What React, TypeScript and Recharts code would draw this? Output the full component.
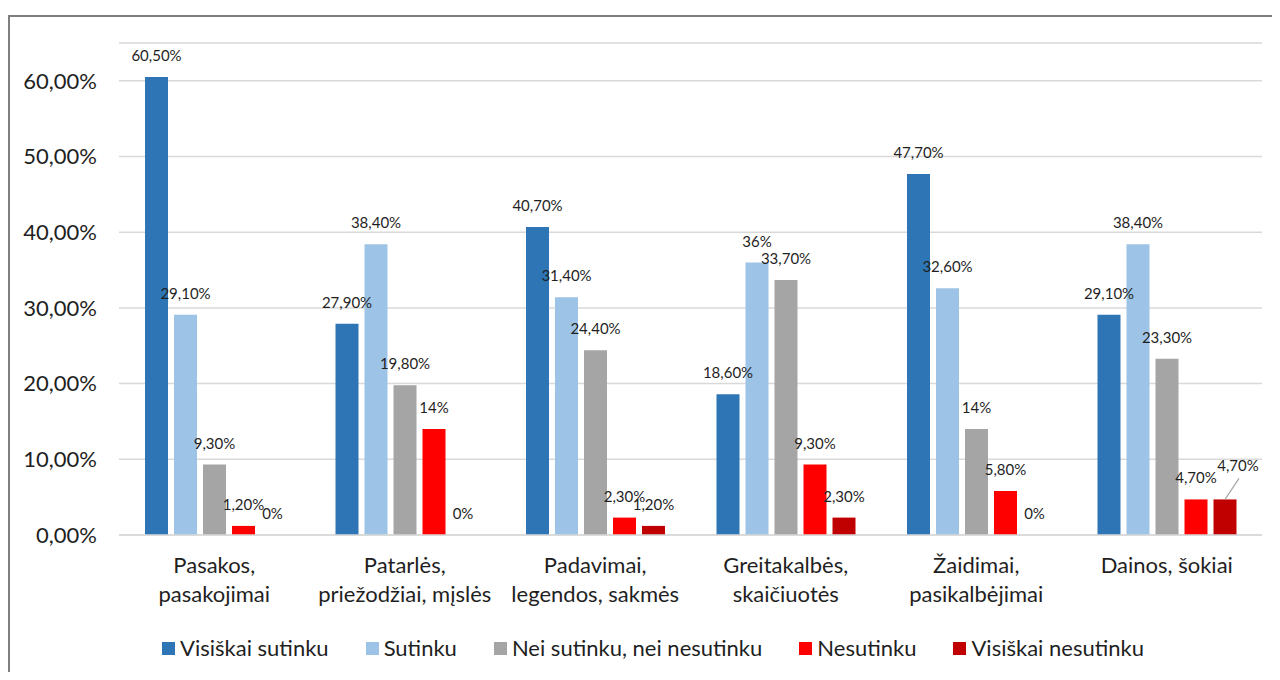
import { BarChart, Bar, XAxis, YAxis, CartesianGrid, LabelList } from 'recharts';

const categories = [
  'Pasakos,\npasakojimai',
  'Patarlės,\npriežodžiai, mįslės',
  'Padavimai,\nlegendos, sakmės',
  'Greitakalbės,\nskaičiuotės',
  'Žaidimai,\npasikalbėjimai',
  'Dainos, šokiai',
];

const visiskaiSutinku = [0.605, 0.279, 0.407, 0.186, 0.477, 0.291];
const sutinku = [0.291, 0.384, 0.314, 0.36, 0.326, 0.384];
const neiSutinkuNeiNesutinku = [0.093, 0.198, 0.244, 0.337, 0.14, 0.233];
const nesutinku = [0.012, 0.14, 0.023, 0.093, 0.058, 0.047];
const visiskaiNesutinku = [0, 0, 0.012, 0.023, 0, 0.047];

const yTicks = [0, 0.1, 0.2, 0.3, 0.4, 0.5, 0.6];

const series = [
  { key: 'vs', name: 'Visiškai sutinku', color: '#2E75B6', values: visiskaiSutinku },
  { key: 's', name: 'Sutinku', color: '#9DC3E6', values: sutinku },
  { key: 'nn', name: 'Nei sutinku, nei nesutinku', color: '#A5A5A5', values: neiSutinkuNeiNesutinku },
  { key: 'n', name: 'Nesutinku', color: '#FF0000', values: nesutinku },
  { key: 'vn', name: 'Visiškai nesutinku', color: '#C00000', values: visiskaiNesutinku },
];

const data = categories.map((cat, i) => {
  const row: Record<string, string | number> = { cat };
  series.forEach((s) => {
    row[s.key] = s.values[i];
  });
  return row;
});

const FONT = 'Lato, "Open Sans", sans-serif';
const TEXT = '#1F1F1F';

const pct = (v: number) => {
  const n = Math.round(v * 1000) / 10;
  return Number.isInteger(n) ? `${n}%` : `${n.toFixed(2).replace('.', ',')}%`;
};

const axisPct = (v: number) => `${(v * 100).toFixed(2).replace('.', ',')}%`;

const makeLabel = (seriesKey: string) => (props: any) => {
  const { x, y, width, height, value, index } = props;
  const cx = x + width / 2;
  const top = Math.min(y, y + height);
  // last bar of "Dainos" has its label pulled aside with a leader line
  if (seriesKey === 'vn' && index === categories.length - 1) {
    return (
      <g>
        <line x1={cx} y1={top} x2={cx + 14} y2={top - 21} stroke="#A6A6A6" strokeWidth={1.2} />
        <text x={cx + 13} y={top - 28} textAnchor="middle" fontSize={15} fontFamily={FONT} fill={TEXT}>
          {pct(value)}
        </text>
      </g>
    );
  }
  return (
    <text x={cx} y={top - 16} textAnchor="middle" fontSize={15} fontFamily={FONT} fill={TEXT}>
      {pct(value)}
    </text>
  );
};

const CategoryTick = (props: any) => {
  const { x, y, payload } = props;
  const lines = String(payload.value).split('\n');
  return (
    <text x={x} y={y + 38} textAnchor="middle" fontSize={22} fontFamily={FONT} fill={TEXT}>
      {lines.map((line, i) => (
        <tspan key={i} x={x} dy={i === 0 ? 0 : 29}>
          {line}
        </tspan>
      ))}
    </text>
  );
};

export default function App() {
  return (
    <div
      style={{
        position: 'relative',
        marginTop: 7,
        width: 1270,
        height: 655,
        borderTop: '2px solid #7F7F7F',
        borderLeft: '2px solid #7F7F7F',
        background: '#fff',
      }}
    >
      <BarChart
        width={1270}
        height={655}
        data={data}
        margin={{ top: 26, right: 18, left: 9, bottom: 0 }}
        barSize={23}
        barGap={6}
      >
        <CartesianGrid horizontal vertical={false} stroke="#D9D9D9" strokeWidth={1.5} />
        <XAxis
          dataKey="cat"
          interval={0}
          height={137}
          tickLine={false}
          axisLine={{ stroke: '#D9D9D9', strokeWidth: 1.5 }}
          tickSize={0}
          tickMargin={0}
          tick={<CategoryTick />}
        />
        <YAxis
          width={100}
          domain={[0, 0.65]}
          ticks={yTicks}
          tickFormatter={axisPct}
          axisLine={false}
          tickLine={false}
          tickSize={0}
          tickMargin={22}
          tick={{ fontSize: 22, fontFamily: FONT, fill: TEXT }}
        />
        {series.map((s) => (
          <Bar
            key={s.key}
            dataKey={s.key}
            name={s.name}
            fill={s.color}
            minPointSize={0.01}
            isAnimationActive={false}
          >
            <LabelList dataKey={s.key} content={makeLabel(s.key)} />
          </Bar>
        ))}
      </BarChart>
      <div
        style={{
          position: 'absolute',
          top: 620,
          left: 0,
          width: 1270,
          paddingLeft: 16,
          boxSizing: 'border-box',
          display: 'flex',
          justifyContent: 'center',
          alignItems: 'center',
          gap: 37,
          fontFamily: FONT,
          fontSize: 22,
          color: TEXT,
          lineHeight: '22px',
        }}
      >
        {series.map((s) => (
          <div key={s.key} style={{ display: 'flex', alignItems: 'center' }}>
            <span style={{ width: 13, height: 13, background: s.color, marginRight: 5, display: 'inline-block' }} />
            <span>{s.name}</span>
          </div>
        ))}
      </div>
    </div>
  );
}
